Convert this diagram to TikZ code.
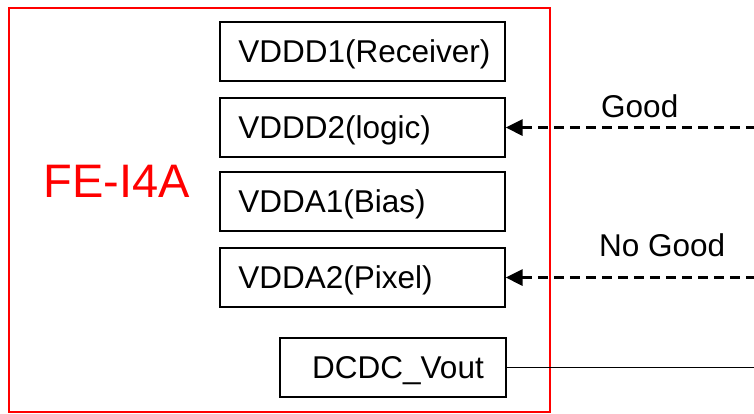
\documentclass[tikz,border=0pt]{standalone}
\usepackage{fontspec}
\setmainfont{Liberation Sans}
\usetikzlibrary{arrows.meta}

\begin{document}
\begin{tikzpicture}[x=1pt,y=-1pt,font=\fontsize{31.5}{38}\selectfont,
  rail/.style={draw,line width=1.6pt,minimum height=59pt,text width=248pt,
               text height=24pt,text depth=1.5pt,
               inner xsep=18.5pt,align=left,anchor=west},
  feed/.style={line width=3pt,dash pattern=on 10pt off 6pt,
               {Triangle[length=17pt,width=16pt]}-},
  tag/.style={inner sep=0pt}]
  \useasboundingbox (0,0) rectangle (754,413);
  \node[draw=red,line width=2pt,minimum width=541pt,minimum height=404pt,
        anchor=north west]                          (chip)  at (8,7)       {};
  \node[text=red,font=\fontsize{47}{56}\selectfont] (name)  at (117,181)   {FE-I4A};
  \node[rail]                                       (vddd1) at (219,51.5)  {VDDD1(Receiver)};
  \node[rail]                                       (vddd2) at (219,127.5) {VDDD2(logic)};
  \node[rail]                                       (vdda1) at (219,201.5) {VDDA1(Bias)};
  \node[rail]                                       (vdda2) at (219,277.5) {VDDA2(Pixel)};
  \node[rail,text width=182pt,inner xsep=22pt,align=right]
                                                    (dcdc)  at (279,367.5) {DCDC\_Vout};
  \coordinate (goodin) at (754,127.5);
  \coordinate (badin)  at (754,277.5);
  \coordinate (vout)   at (754,367.5);
  \draw[feed] (vddd2.east) -- node[tag,pos=.54,above=8.5pt]  (good)   {Good}    (goodin);
  \draw[feed] (vdda2.east) -- node[tag,pos=.63,above=19pt]   (nogood) {No Good} (badin);
  \draw[line width=1.8pt] (dcdc.east) -- (vout);
\end{tikzpicture}
\end{document}
